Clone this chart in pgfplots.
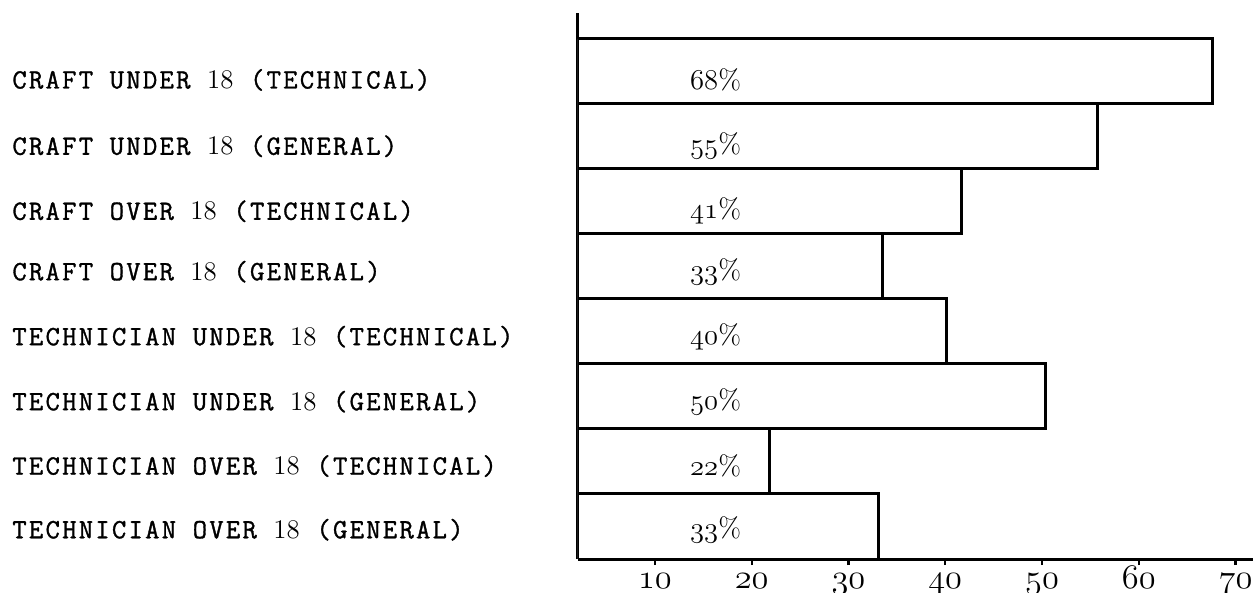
\documentclass[border=0pt]{standalone}
\usepackage{fontspec}
\usepackage{pgfplots}
\pgfplotsset{compat=1.18}
\newfontfamily\typer{Latin Modern Mono}[FakeBold=1.2, LetterSpace=8]
\newcommand\osn[1]{{\usefont{OML}{cmm}{m}{it}#1}}
\newcommand\lab[1]{{\typer #1}}
\newcommand\eig{{\fontsize{13.5}{15}\rmfamily 18}}

\begin{document}
\begin{tikzpicture}
\useasboundingbox (-289bp,-17bp) rectangle (338.5bp,279.5bp);
\begin{axis}[
    at={(0,0)}, anchor=south west,
    scale only axis,
    width=337.5bp, height=273bp,
    xmin=2.05, xmax=71.8,
    ymin=0.5, ymax=8.9,
    axis lines=left,
    axis line style={-, line width=1.5bp},
    xtick={10,20,30,40,50,60,70},
    xticklabels={\osn{10},\osn{20},\osn{30},\osn{40},\osn{50},\osn{60},\osn{70}},
    tick align=outside,
    major tick length=3bp,
    x tick style={line width=1.2bp, black},
    xticklabel style={font=\fontsize{16}{17}\selectfont, anchor=north,
      inner sep=0pt, text height=7bp, text depth=2bp, yshift=-4.5bp},
    ytick={0.95,1.93,2.92,3.92,4.92,5.85,6.85,7.87},
    yticklabels={
      \lab{TECHNICIAN OVER \eig{} (GENERAL)},
      \lab{TECHNICIAN OVER \eig{} (TECHNICAL)},
      \lab{TECHNICIAN UNDER \eig{} (GENERAL)},
      \lab{TECHNICIAN UNDER \eig{} (TECHNICAL)},
      \lab{CRAFT OVER \eig{} (GENERAL)},
      \lab{CRAFT OVER \eig{} (TECHNICAL)},
      \lab{CRAFT UNDER \eig{} (GENERAL)},
      \lab{CRAFT UNDER \eig{} (TECHNICAL)}},
    y tick style={draw=none},
    yticklabel style={anchor=west, inner sep=0pt, xshift=-280bp,
      font=\fontsize{14}{15}\selectfont},
  ]
  % bar lengths (labels inside give the rounded values)
  \addplot[xbar, bar width=1, bar shift=0pt, fill=white, draw=black,
    line width=1.5bp] coordinates {
    (33.1,1) (21.8,2) (50.4,3) (40.1,4)
    (33.5,5) (41.7,6) (55.7,7) (67.6,8)
  };
  \addplot[only marks, mark=none, nodes near coords,
    point meta=explicit symbolic,
    nodes near coords style={anchor=west, inner sep=0pt,
      font=\fontsize{14}{15}\selectfont}] coordinates {
    (13.6,0.95)[\osn{33}\%] (13.6,1.93)[\osn{22}\%]
    (13.6,2.92)[\osn{50}\%] (13.6,3.92)[\osn{40}\%]
    (13.6,4.92)[\osn{33}\%] (13.6,5.85)[\osn{41}\%]
    (13.6,6.85)[\osn{55}\%] (13.6,7.87)[\osn{68}\%]
  };
\end{axis}
\end{tikzpicture}
\end{document}
